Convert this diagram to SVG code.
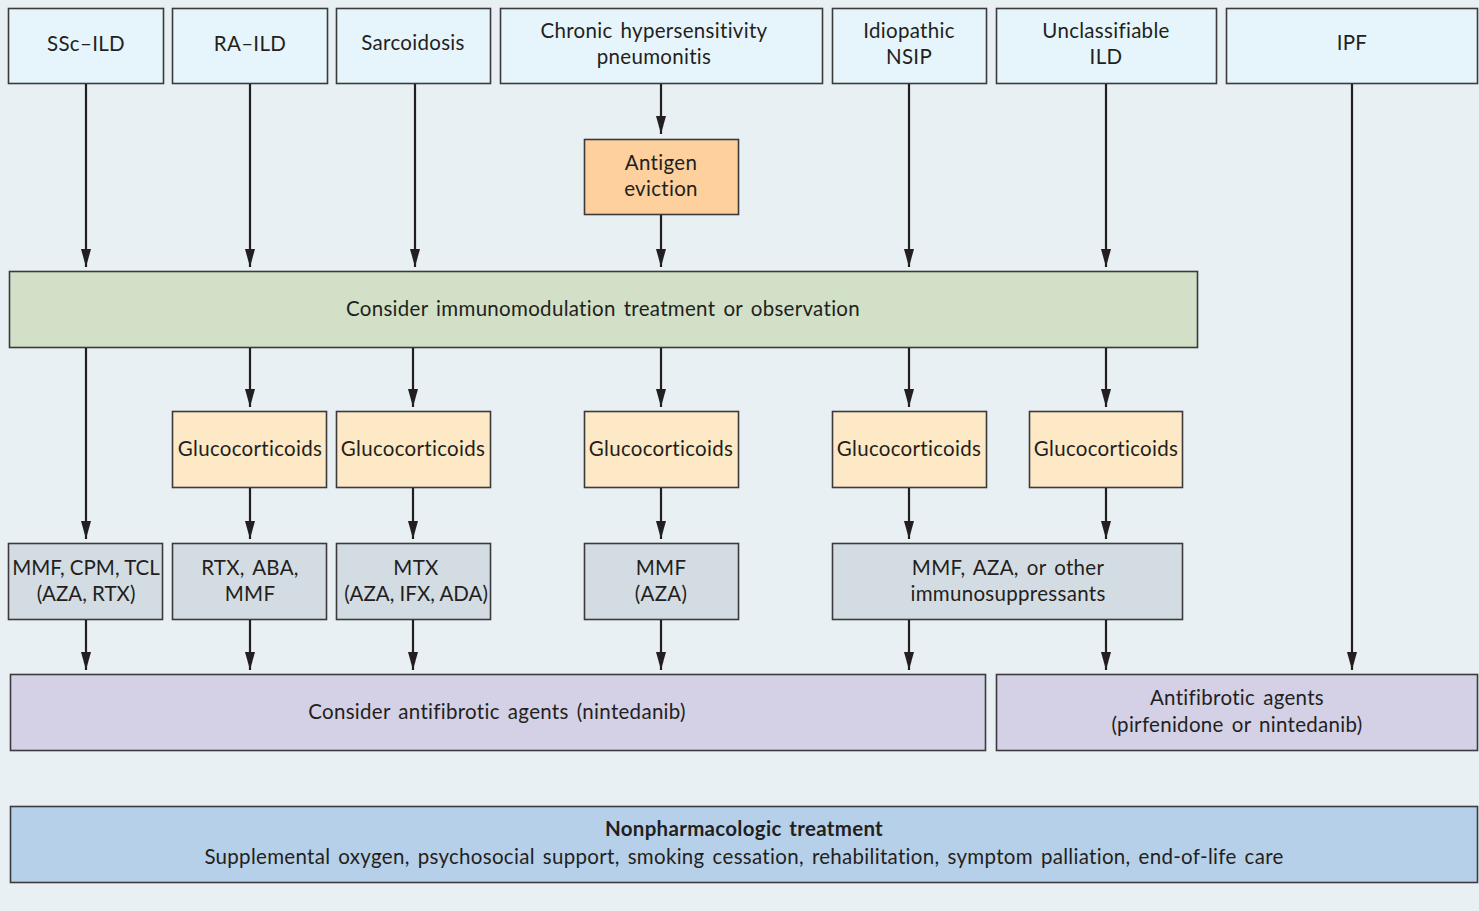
<svg xmlns="http://www.w3.org/2000/svg" width="1479" height="911" viewBox="0 0 1479 911">
<style>
  .bx{stroke:#3b3b3d;stroke-width:1.6}
  .top{fill:#e6f5fc}
  .ant{fill:#fdd09d}
  .grn{fill:#d1e0c6}
  .glu{fill:#fde9c5}
  .gry{fill:#d4dce3}
  .pur{fill:#d4d1e6}
  .blu{fill:#b7d0ea}
  text{font-family:Lato,"Open Sans","Liberation Sans",sans-serif;font-size:20.5px;letter-spacing:0.3px;word-spacing:2.5px;fill:#231f20;text-anchor:middle}
  .t{letter-spacing:0;word-spacing:0}
  .b{font-weight:bold}
  .c line{stroke:#231f20;stroke-width:2.2;marker-end:url(#ah)}
</style>
<defs>
  <marker id="ah" viewBox="0 0 18 10" refX="18" refY="5" markerWidth="18" markerHeight="10" markerUnits="userSpaceOnUse" orient="auto">
    <path d="M0,0 L18,5 L0,10 z" fill="#231f20"/>
  </marker>
</defs>
<rect width="1479" height="911" fill="#e8f0f3"/>

<g id="n-ssc"><rect class="bx top" x="8.5" y="8.5" width="155" height="75"/><text x="86" y="51">SSc–ILD</text></g>
<g id="n-ra"><rect class="bx top" x="172.5" y="8.5" width="155" height="75"/><text x="250" y="51">RA–ILD</text></g>
<g id="n-sarc"><rect class="bx top" x="336.5" y="8.5" width="154" height="75"/><text x="413" y="50">Sarcoidosis</text></g>
<g id="n-chp"><rect class="bx top" x="500.5" y="8.5" width="322" height="75"/><text x="654" y="38">Chronic hypersensitivity</text><text x="654" y="64">pneumonitis</text></g>
<g id="n-nsip"><rect class="bx top" x="832.5" y="8.5" width="154" height="75"/><text x="909" y="38">Idiopathic</text><text x="909" y="64">NSIP</text></g>
<g id="n-uncl"><rect class="bx top" x="996.5" y="8.5" width="220" height="75"/><text x="1106" y="38">Unclassifiable</text><text x="1106" y="64">ILD</text></g>
<g id="n-ipf"><rect class="bx top" x="1226.5" y="8.5" width="251" height="75"/><text x="1352" y="50">IPF</text></g>

<g id="n-antigen"><rect class="bx ant" x="584.5" y="139.5" width="154" height="75"/><text x="661" y="170">Antigen</text><text x="661" y="196">eviction</text></g>

<g id="n-immuno"><rect class="bx grn" x="9.5" y="271.5" width="1188" height="76"/><text x="603" y="316">Consider immunomodulation treatment or observation</text></g>

<g id="n-gc-ra"><rect class="bx glu" x="172.5" y="411.5" width="154" height="76"/><text x="250" y="456">Glucocorticoids</text></g>
<g id="n-gc-sarc"><rect class="bx glu" x="336.5" y="411.5" width="154" height="76"/><text x="413" y="456">Glucocorticoids</text></g>
<g id="n-gc-chp"><rect class="bx glu" x="584.5" y="411.5" width="154" height="76"/><text x="661" y="456">Glucocorticoids</text></g>
<g id="n-gc-nsip"><rect class="bx glu" x="832.5" y="411.5" width="154" height="76"/><text x="909" y="456">Glucocorticoids</text></g>
<g id="n-gc-uncl"><rect class="bx glu" x="1029.5" y="411.5" width="153" height="76"/><text x="1106" y="456">Glucocorticoids</text></g>

<g id="n-d-ssc"><rect class="bx gry" x="8.5" y="543.5" width="154" height="76"/><text class="t" x="86" y="575">MMF, CPM, TCL</text><text class="t" x="86" y="601">(AZA, RTX)</text></g>
<g id="n-d-ra"><rect class="bx gry" x="172.5" y="543.5" width="154" height="76"/><text x="250" y="575">RTX, ABA,</text><text x="250" y="601">MMF</text></g>
<g id="n-d-sarc"><rect class="bx gry" x="336.5" y="543.5" width="154" height="76"/><text x="416" y="575">MTX</text><text class="t" x="416" y="601">(AZA, IFX, ADA)</text></g>
<g id="n-d-chp"><rect class="bx gry" x="584.5" y="543.5" width="154" height="76"/><text x="661" y="575">MMF</text><text x="661" y="601">(AZA)</text></g>
<g id="n-d-other"><rect class="bx gry" x="832.5" y="543.5" width="350" height="76"/><text x="1008" y="575">MMF, AZA, or other</text><text x="1008" y="601">immunosuppressants</text></g>

<g id="n-af1"><rect class="bx pur" x="10.5" y="674.5" width="975" height="76"/><text x="497" y="719">Consider antifibrotic agents (nintedanib)</text></g>
<g id="n-af2"><rect class="bx pur" x="996.5" y="674.5" width="481" height="76"/><text x="1237" y="705">Antifibrotic agents</text><text x="1237" y="732">(pirfenidone or nintedanib)</text></g>

<g id="n-nonpharm"><rect class="bx blu" x="10.5" y="806.5" width="1467" height="76"/><text class="b" x="744" y="836">Nonpharmacologic treatment</text><text x="744" y="864">Supplemental oxygen, psychosocial support, smoking cessation, rehabilitation, symptom palliation, end-of-life care</text></g>

<g id="connectors" class="c">
  <line x1="86" y1="84" x2="86" y2="267"/>
  <line x1="250" y1="84" x2="250" y2="267"/>
  <line x1="415" y1="84" x2="415" y2="267"/>
  <line x1="661" y1="84" x2="661" y2="134"/>
  <line x1="661" y1="215" x2="661" y2="267"/>
  <line x1="909" y1="84" x2="909" y2="267"/>
  <line x1="1106" y1="84" x2="1106" y2="267"/>
  <line x1="1352" y1="84" x2="1352" y2="670"/>
  <line x1="86" y1="348" x2="86" y2="539"/>
  <line x1="250" y1="348" x2="250" y2="407"/>
  <line x1="413" y1="348" x2="413" y2="407"/>
  <line x1="661" y1="348" x2="661" y2="407"/>
  <line x1="909" y1="348" x2="909" y2="407"/>
  <line x1="1106" y1="348" x2="1106" y2="407"/>
  <line x1="250" y1="488" x2="250" y2="539"/>
  <line x1="413" y1="488" x2="413" y2="539"/>
  <line x1="661" y1="488" x2="661" y2="539"/>
  <line x1="909" y1="488" x2="909" y2="539"/>
  <line x1="1106" y1="488" x2="1106" y2="539"/>
  <line x1="86" y1="620" x2="86" y2="670"/>
  <line x1="250" y1="620" x2="250" y2="670"/>
  <line x1="413" y1="620" x2="413" y2="670"/>
  <line x1="661" y1="620" x2="661" y2="670"/>
  <line x1="909" y1="620" x2="909" y2="670"/>
  <line x1="1106" y1="620" x2="1106" y2="670"/>
</g>
</svg>
